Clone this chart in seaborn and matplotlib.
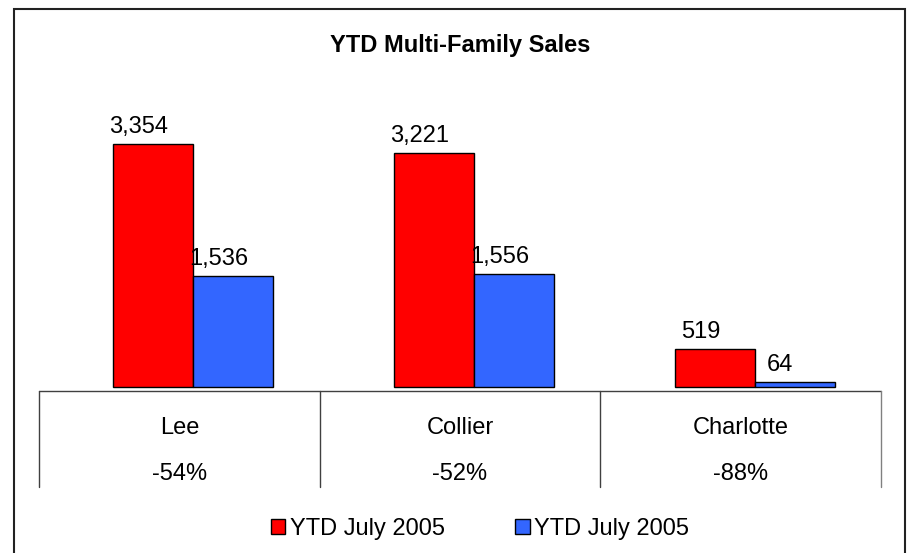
import matplotlib
matplotlib.use("Agg")
import matplotlib.pyplot as plt
from matplotlib.patches import Patch, Rectangle
import pandas as pd
import seaborn as sns

# chart data
counties = ["Lee", "Collier", "Charlotte"]
sales_prior = [3354, 3221, 519]
sales_current = [1536, 1556, 64]
series_keys = ["prior", "current"]
legend_labels = ["YTD July 2005", "YTD July 2005"]
bar_colors = ["#FF0000", "#3366FF"]
title = "YTD Multi-Family Sales"

df = pd.DataFrame({
    "county": counties * 2,
    "series": [series_keys[0]] * len(counties) + [series_keys[1]] * len(counties),
    "sales": sales_prior + sales_current,
})
pct_change = [(c - p) / p for p, c in zip(sales_prior, sales_current)]

sns.set_theme(style="white")
plt.rcParams["font.family"] = ["Liberation Sans", "DejaVu Sans"]
plt.rcParams["text.color"] = "black"

W, H = 915, 553
FS = 17
LINE = "#404040"

fig = plt.figure(figsize=(W / 100, H / 100), dpi=100)
ax = fig.add_axes([39 / W, 1 - 391 / H, 842 / W, 294 / H])

sns.barplot(
    data=df, x="county", y="sales", hue="series",
    order=counties, hue_order=series_keys, palette=bar_colors,
    width=0.57, gap=0, saturation=1, edgecolor="black", linewidth=1,
    legend=False, ax=ax,
)
ax.set_xlim(-0.55, 2.45)
ax.set_ylim(-55, 4000)
ax.set_xticks([])
ax.set_yticks([])
ax.set_xlabel("")
ax.set_ylabel("")
for s in ax.spines.values():
    s.set_visible(False)

# value labels (sit a bit left of each bar, as in the original)
for cont in ax.containers:
    for bar in cont:
        h = bar.get_height()
        ax.annotate(f"{h:,.0f}", (bar.get_x() + bar.get_width() / 2, h),
                    xytext=(-10.3, 8), textcoords="offset points",
                    ha="center", va="baseline", fontsize=FS, color="black")

# data table under the plot
tab_h = 96 / 294
ax.plot([0, 1], [0, 0], transform=ax.transAxes, clip_on=False, color=LINE, lw=1)
n = len(counties)
for i in range(n + 1):
    ax.plot([i / n, i / n], [0, -tab_h], transform=ax.transAxes,
            clip_on=False, color=LINE if i < n else "#808080", lw=1)
for i, (name, pc) in enumerate(zip(counties, pct_change)):
    xc = (i + 0.5) / n
    ax.text(xc, -43 / 294, name, transform=ax.transAxes,
            ha="center", va="baseline", fontsize=FS, color="black")
    ax.text(xc, -89 / 294, f"{pc:.0%}", transform=ax.transAxes,
            ha="center", va="baseline", fontsize=FS, color="black")

fig.text(460 / W, 1 - 52 / H, title, ha="center", va="baseline",
         fontsize=FS, fontweight="bold", color="black")

handles = [Patch(facecolor=c, edgecolor="black", lw=1) for c in bar_colors]
fig.legend(handles, legend_labels, loc="center",
           bbox_to_anchor=(480 / W, 1 - 529 / H), ncol=2, frameon=False,
           fontsize=FS, handlelength=0.6, handleheight=0.6,
           handletextpad=0.2, columnspacing=3.0, borderaxespad=0, borderpad=0)

fig.add_artist(Rectangle((14 / W, -0.05), (905 - 14) / W, 1.05 - 9 / H,
                         transform=fig.transFigure, fill=False,
                         edgecolor="#222222", lw=1.5))

fig.savefig("out.png", dpi=100)
